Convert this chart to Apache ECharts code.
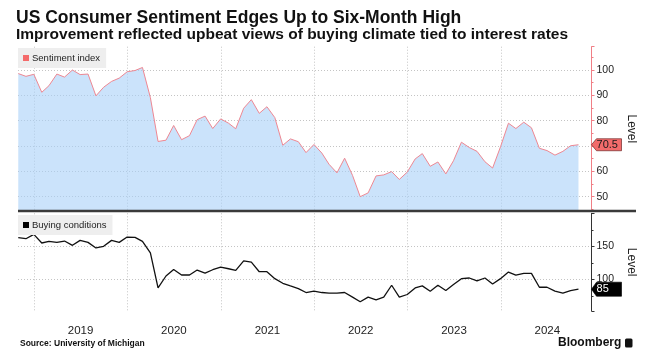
<!DOCTYPE html>
<html>
<head>
<meta charset="utf-8">
<script src="https://cdn.jsdelivr.net/npm/echarts@6/dist/echarts.min.js"></script>
<style>
html,body{margin:0;padding:0;background:#fff;}
#chart{width:647px;height:362px;}
</style>
</head>
<body>
<div id="chart"></div>
<script>
// ---- data (monthly, first observation Oct 2018, last Oct 2024) ----
const startYear = 2018;
const startMonth = 10;
const sentiment = [
  98.6, 97.5, 98.3,
  91.2, 93.8, 98.4, 97.2, 100.0, 98.2, 98.4, 89.8, 93.2, 95.5, 96.8, 99.3,
  99.8, 101.0, 89.1, 71.8, 72.3, 78.1, 72.5, 74.1, 80.4, 81.8, 76.9, 80.7,
  79.0, 76.8, 84.9, 88.3, 82.9, 85.5, 81.2, 70.3, 72.8, 71.7, 67.4, 70.6,
  67.2, 62.8, 59.4, 65.2, 58.4, 50.0, 51.5, 58.2, 58.6, 59.9, 56.8, 59.7,
  64.9, 67.0, 62.0, 63.7, 59.0, 64.2, 71.5, 69.4, 67.9, 63.8, 61.3, 69.7,
  79.0, 76.9, 79.4, 77.2, 69.1, 68.2, 66.4, 67.9, 70.1, 70.5
];
const buying = [
  163, 161.5, 168,
  155, 157.5, 156, 158, 151.5, 159, 156, 147.5, 150, 159, 156, 164,
  163.5, 157.5, 140, 87, 105, 115, 106.5, 106.5, 114, 109.5, 114.5, 118.5,
  116, 113.5, 128, 126, 111.5, 111.5, 101, 94, 90, 86, 80, 82,
  80, 79, 79, 80, 73, 66, 73, 69, 73, 91, 73, 77,
  87, 90, 82, 91, 83, 92, 101, 102, 97.5, 102, 93, 101,
  111, 106.5, 109, 109, 88, 88, 82, 79, 83, 85
];
const sentimentTicks = [50, 60, 70, 80, 90, 100];
const buyingTicks = [100, 150];
const seriesNames = ['Sentiment index', 'Buying conditions'];
const titleText = 'US Consumer Sentiment Edges Up to Six-Month High';
const subtitleText = 'Improvement reflected upbeat views of buying climate tied to interest rates';
const sourceText = 'Source: University of Michigan';

// ---- helpers ----
function monthEnd(i) {
  const idx = startMonth - 1 + i;
  const y = startYear + Math.floor(idx / 12);
  const m = idx % 12;
  return Date.UTC(y, m + 1, 0);
}
const xMin = Date.UTC(2018, 9, 30);
const xMax = Date.UTC(2024, 11, 21);
const yearMs = 365 * 24 * 3600 * 1000;
const FONT = '"Liberation Sans", Arial, sans-serif';
const sData = sentiment.map((v, i) => [monthEnd(i), v]);
const bData = buying.map((v, i) => [monthEnd(i), v]);
const sLast = sentiment[sentiment.length - 1];
const bLast = buying[buying.length - 1];

const gridLine = { show: true, showMinLine: false, showMaxLine: false, lineStyle: { type: [1, 2], color: '#c4c4c4', width: 1 } };

function xAxisFor(gi, labels) {
  return {
    type: 'time', gridIndex: gi, min: xMin, max: xMax,
    minInterval: yearMs, splitNumber: 6,
    axisLine: { show: false }, axisTick: { show: false },
    axisLabel: labels ? {
      show: true, formatter: '{yyyy}', showMinLabel: false, showMaxLabel: false,
      fontSize: 11.5, color: '#222', fontFamily: FONT, margin: 14,
      padding: [0, 0, 0, 93]
    } : { show: false },
    splitLine: gridLine
  };
}

function yAxisFor(gi, min, max, splitNumber, ticks, lineColor) {
  return {
    type: 'value', gridIndex: gi, position: 'right', min: min, max: max, splitNumber: splitNumber,
    axisLine: { show: true, lineStyle: { color: lineColor, width: 1 } },
    axisTick: { show: true, length: 3, lineStyle: { color: lineColor } },
    minorTick: { show: true, splitNumber: 2, length: 2, lineStyle: { color: lineColor } },
    axisLabel: {
      show: true, margin: 5, fontSize: 10.5, color: '#222', fontFamily: FONT,
      formatter: v => (ticks.indexOf(v) >= 0 ? String(v) : '')
    },
    splitLine: gridLine,
    name: 'Level', nameLocation: 'middle', nameRotate: -90, nameGap: 28,
    nameTextStyle: { fontSize: 12, color: '#222', fontFamily: FONT }
  };
}

function badge(x, y, fill, border, textColor, size) {
  return {
    symbol: 'path://M0,6L6,0L36,0L36,12L6,12Z',
    symbolSize: size, symbolOffset: [size[0] / 2, 0],
    silent: true, animation: false,
    itemStyle: { color: fill, borderColor: border, borderWidth: 0.6 },
    label: { show: true, position: 'insideLeft', distance: 5.5, color: textColor, fontSize: 11, fontFamily: FONT },
    data: [{ coord: [x, y], value: y }]
  };
}

function legendFor(name, top) {
  return {
    data: [name], left: 18, top: top, orient: 'horizontal', selectedMode: false,
    backgroundColor: '#eeeeee', padding: [5, 6, 5, 5], borderRadius: 0,
    icon: 'rect', itemWidth: 6, itemHeight: 6, itemGap: 0,
    textStyle: { fontSize: 9.5, color: '#222', fontFamily: FONT, padding: [0, 0, 0, -2] }
  };
}

const chart = echarts.init(document.getElementById('chart'), null, { renderer: 'canvas' });
chart.setOption({
  animation: false,
  useUTC: true,
  backgroundColor: '#fff',
  textStyle: { fontFamily: FONT },
  legend: [legendFor(seriesNames[0], 48), legendFor(seriesNames[1], 215)],
  grid: [
    { left: 18, right: 55.5, top: 46.7, height: 164.3, containLabel: false },
    { left: 18, right: 55.5, top: 213.3, height: 97.7, containLabel: false }
  ],
  xAxis: [xAxisFor(0, false), xAxisFor(1, true)],
  yAxis: [
    yAxisFor(0, 44.35, 109.2, 5, sentimentTicks, '#f07f86'),
    yAxisFor(1, 52, 200, 3, buyingTicks, '#333')
  ],
  series: [
    {
      name: seriesNames[0], type: 'line', xAxisIndex: 0, yAxisIndex: 0,
      data: sData, symbol: 'none', showSymbol: false,
      lineStyle: { color: '#ee8792', width: 1 },
      itemStyle: { color: '#f46a6a' },
      areaStyle: { color: 'rgba(168,208,248,0.6)', opacity: 1, origin: 'start' },
      markPoint: badge(xMax, sLast, '#f26b6b', '#6a2020', '#1a1a1a', [30, 12])
    },
    {
      name: seriesNames[1], type: 'line', xAxisIndex: 1, yAxisIndex: 1,
      data: bData, symbol: 'none', showSymbol: false,
      lineStyle: { color: '#111', width: 1.3 },
      itemStyle: { color: '#000' },
      markPoint: badge(xMax, bLast, '#000', '#000', '#fff', [30, 14])
    }
  ],
  graphic: [
    { type: 'line', shape: { x1: 18, y1: 211, x2: 636, y2: 211 }, style: { stroke: '#3a3a3a', lineWidth: 2.5 }, silent: true, z: 100 },
    { type: 'text', left: 16, top: 9, style: { text: titleText, font: 'bold 17.5px ' + FONT, fill: '#111' } },
    { type: 'text', left: 16, top: 27, style: { text: subtitleText, font: 'bold 15.5px ' + FONT, fill: '#111' } },
    { type: 'text', left: 20, top: 339, style: { text: sourceText, font: 'bold 8.5px ' + FONT, fill: '#111' } },
    { type: 'text', left: 558, top: 337, style: { text: 'Bloomberg', font: 'bold 12px ' + FONT, fill: '#111' } },
    { type: 'rect', left: 625, top: 338.5, shape: { width: 7.5, height: 9, r: 1.5 }, style: { fill: '#111' } }
  ]
});
</script>
</body>
</html>
